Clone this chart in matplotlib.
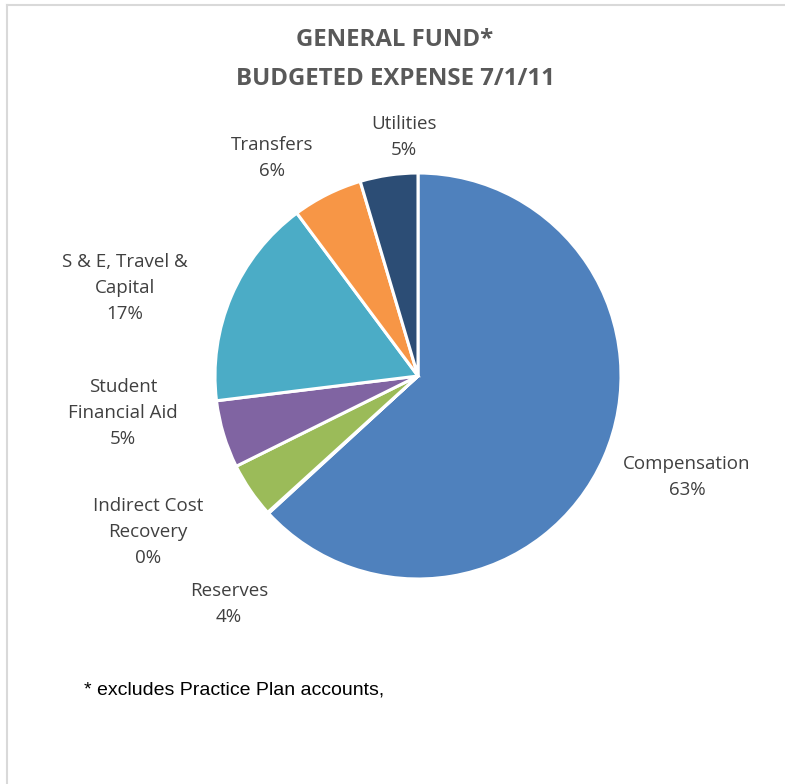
import matplotlib.pyplot as plt
from matplotlib.lines import Line2D

# budget shares, clockwise from 12 o'clock
categories = ["Compensation", "Indirect Cost\nRecovery", "Reserves",
              "Student\nFinancial Aid", "S & E, Travel &\nCapital",
              "Transfers", "Utilities"]
shares = [63.3, 0.1, 4.4, 5.4, 16.8, 5.6, 4.6]
colors = ["#4F81BD", "#C0504D", "#9BBB59", "#8064A2", "#4BACC6",
          "#F79646", "#2C4D75"]

# label anchor (pixel x, y of first line), same order as categories
label_pos = [(687, 464), (148, 506), (229, 591), (123, 387), (125, 262),
             (272, 145), (404, 124)]

W, H = 785, 784
fig = plt.figure(figsize=(W / 100, H / 100), dpi=100)
ax = fig.add_axes([0, 0, 1, 1])

cx, cy, r = 418, 376, 203
ax.pie(shares, colors=colors, startangle=90, counterclock=False,
       center=(cx, H - cy), radius=r, frame=True,
       wedgeprops=dict(edgecolor="white", linewidth=2.2))
ax.set_xlim(0, W)
ax.set_ylim(0, H)
ax.axis("off")

txt = "#404040"
total = sum(shares)
for name, v, (x, y) in zip(categories, shares, label_pos):
    lines = name.split("\n") + ["%.0f%%" % (100 * v / total)]
    for i, s in enumerate(lines):
        ax.text(x, H - (y + 26 * i), s, ha="center", va="center",
                fontsize=13.5, color=txt, family="Open Sans")

for y, s in [(40, "GENERAL FUND*"), (79, "BUDGETED EXPENSE 7/1/11")]:
    ax.text(395, H - y, s, ha="center", va="center", fontsize=17.3,
            fontweight="bold", color="#595959", family="Open Sans")

ax.text(84, H - 690, "* excludes Practice Plan accounts,", ha="left",
        va="center", fontsize=14, color="black", family="Liberation Sans")

# chart border (only top and left edges fall inside the canvas)
ax.add_line(Line2D([7, W], [H - 5, H - 5], color="#D9D9D9", lw=1.5))
ax.add_line(Line2D([7, 7], [H - 5, 0], color="#D9D9D9", lw=1.5))

fig.savefig("out.png", dpi=100)
